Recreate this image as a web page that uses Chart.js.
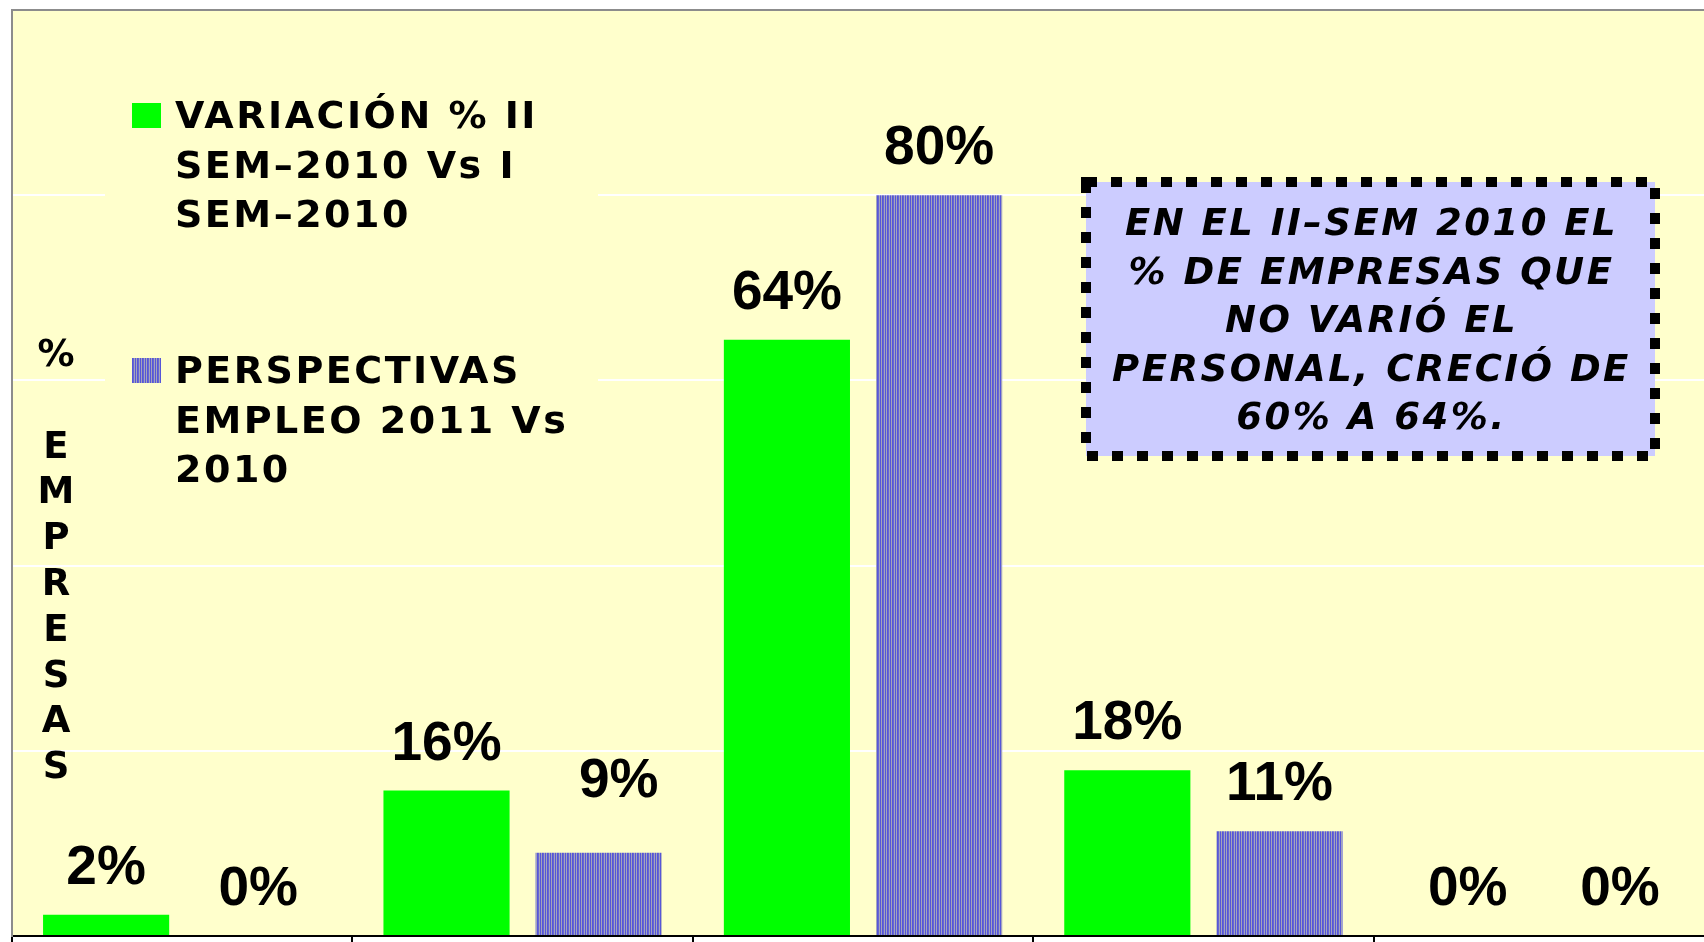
<!DOCTYPE html>
<html>
<head>
<meta charset="utf-8">
<script src="https://cdn.jsdelivr.net/npm/chart.js@4.4.1/dist/chart.umd.min.js"></script>
<style>
  html, body { margin: 0; padding: 0; overflow: hidden; background: #fff; }
  canvas { display: block; }
</style>
</head>
<body>
<canvas id="empleoChart" width="1714" height="942"></canvas>
<script>
// categories are cut off below the picture, so their labels stay hidden
const categories = ['AUMENTÓ MUCHO', 'AUMENTÓ', 'NO VARIÓ', 'DISMINUYÓ', 'DISMINUYÓ MUCHO'];
const variacionValues = [2.3, 15.7, 64.4, 17.9, 0];
const perspectivasValues = [0, 9, 80, 11.3, 0];
const variacionName = ['VARIACIÓN % II', 'SEM–2010 Vs I', 'SEM–2010'];
const perspectivasName = ['PERSPECTIVAS', 'EMPLEO 2011 Vs', '2010'];
const yMax = 100;
const yStep = 20;
const yTitle = ['%', '', 'E', 'M', 'P', 'R', 'E', 'S', 'A', 'S'];
const noteLines = ['EN EL II–SEM 2010 EL', '% DE EMPRESAS QUE', 'NO VARIÓ EL', 'PERSONAL, CRECIÓ DE', '60% A 64%.'];

const canvas = document.getElementById('empleoChart');
const ctx = canvas.getContext('2d');

const makeStripes = () => {
  const tile = document.createElement('canvas');
  tile.width = 5;
  tile.height = 1;
  const t = tile.getContext('2d');
  ['#5656d8', '#a4a4bc', '#5656d8', '#6666d2', '#a4a4bc'].forEach((col, i) => {
    t.fillStyle = col;
    t.fillRect(i, 0, 1, 1);
  });
  return ctx.createPattern(tile, 'repeat');
};

const plotBackground = {
  id: 'plotBackground',
  beforeDraw: (chart) => {
    const {ctx, chartArea} = chart;
    ctx.save();
    ctx.fillStyle = '#ffffcc';
    ctx.fillRect(chartArea.left, chartArea.top, chartArea.right - chartArea.left, chartArea.bottom - chartArea.top);
    ctx.restore();
  }
};

// the 9% label was dragged aside in the original
const labelNudge = {'1-1': [20, -25]};

const valueLabels = {
  id: 'valueLabels',
  afterDatasetsDraw: (chart) => {
    const ctx = chart.ctx;
    ctx.save();
    ctx.font = 'bold 55px "Liberation Sans", Arial, sans-serif';
    ctx.fillStyle = '#000';
    ctx.textAlign = 'center';
    ctx.textBaseline = 'alphabetic';
    chart.data.datasets.forEach((ds, i) => {
      chart.getDatasetMeta(i).data.forEach((bar, j) => {
        const [dx, dy] = labelNudge[`${i}-${j}`] || [0, 0];
        ctx.fillText(`${Math.round(ds.data[j])}%`, bar.x + dx, bar.y - 31 + dy);
      });
    });
    ctx.restore();
  }
};

const sideLegend = {
  id: 'sideLegend',
  afterDatasetsDraw: (chart) => {
    const ctx = chart.ctx;
    const names = [variacionName, perspectivasName];
    const firstBaselines = [128, 383];
    ctx.save();
    ctx.fillStyle = '#ffffcc';
    ctx.fillRect(105, 60, 493, 440);
    ctx.font = 'bold 38px "DejaVu Sans", sans-serif';
    ctx.letterSpacing = '2.5px';
    ctx.textBaseline = 'alphabetic';
    chart.data.datasets.forEach((ds, i) => {
      ctx.fillStyle = ds.backgroundColor;
      ctx.fillRect(132, firstBaselines[i] - 25, 29, 25);
      ctx.fillStyle = '#000';
      names[i].forEach((line, j) => ctx.fillText(line, 175, firstBaselines[i] + j * 49.5));
    });
    ctx.restore();
  }
};

const axisTitle = {
  id: 'axisTitle',
  afterDraw: (chart) => {
    const ctx = chart.ctx;
    ctx.save();
    ctx.font = 'bold 37px "DejaVu Sans", sans-serif';
    ctx.fillStyle = '#000';
    ctx.textAlign = 'center';
    yTitle.forEach((ch, i) => ctx.fillText(ch, 56, 366 + i * 45.8));
    ctx.restore();
  }
};

const noteBox = {
  id: 'noteBox',
  afterDraw: (chart) => {
    const ctx = chart.ctx;
    const box = {x: 1086, y: 182, w: 569, h: 274};
    ctx.save();
    ctx.fillStyle = '#ccccff';
    ctx.fillRect(box.x, box.y, box.w, box.h);
    ctx.setLineDash([11, 14]);
    ctx.lineWidth = 10;
    ctx.strokeStyle = '#000';
    ctx.strokeRect(box.x, box.y, box.w, box.h);
    ctx.setLineDash([]);
    ctx.font = 'italic bold 37px "DejaVu Sans", sans-serif';
    ctx.letterSpacing = '2.5px';
    ctx.fillStyle = '#000';
    ctx.textAlign = 'center';
    noteLines.forEach((line, i) => ctx.fillText(line, box.x + box.w / 2 + 1, 235 + i * 48.5));
    ctx.restore();
  }
};

const empleoChart = new Chart(ctx, {
  type: 'bar',
  data: {
    labels: categories,
    datasets: [{
      label: variacionName.join(' '),
      data: variacionValues,
      backgroundColor: '#00ff00',
      categoryPercentage: 0.894,
      barPercentage: 0.829,
    }, {
      label: perspectivasName.join(' '),
      data: perspectivasValues,
      backgroundColor: makeStripes(),
      categoryPercentage: 0.894,
      barPercentage: 0.829,
    }],
  },
  options: {
    responsive: false,
    animation: false,
    layout: {padding: {left: 12, top: 10, right: 0, bottom: 0}},
    plugins: {
      legend: {display: false},
      tooltip: {enabled: false},
    },
    scales: {
      x: {
        ticks: {display: false},
        grid: {drawOnChartArea: false, drawTicks: true, tickLength: 6, color: '#000', lineWidth: 2},
        border: {color: '#000', width: 2},
      },
      y: {
        min: 0,
        max: yMax,
        ticks: {display: false, stepSize: yStep},
        grid: {
          drawTicks: false,
          lineWidth: 2,
          color: (c) => c.tick.value === yMax ? '#8c8c8c' : (c.tick.value === 0 ? 'rgba(0,0,0,0)' : '#ffffff'),
        },
        border: {color: '#8c8c8c', width: 2},
      },
    },
  },
  plugins: [plotBackground, valueLabels, sideLegend, axisTitle, noteBox],
});
</script>
</body>
</html>
